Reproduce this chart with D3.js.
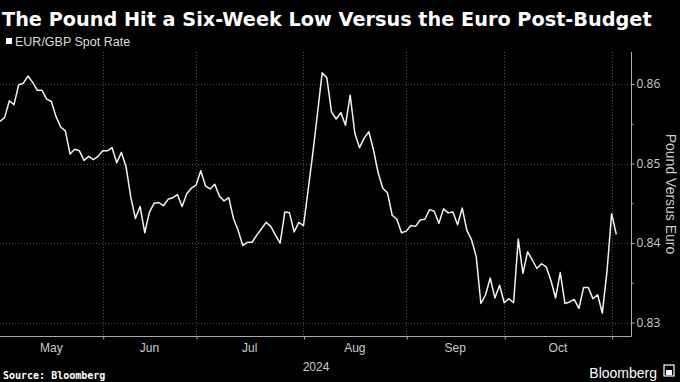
<!DOCTYPE html>
<html>
<head>
<meta charset="utf-8">
<script src="https://cdn.jsdelivr.net/npm/d3@7"></script>
<style>
  html, body { margin: 0; padding: 0; background: #000; }
  svg { display: block; }
</style>
</head>
<body>
<svg id="chart" width="680" height="382"></svg>
<script>
// ---- Data (EUR/GBP spot rate, trading-day index) ----
const seriesName = "EUR/GBP Spot Rate";
const rates = [
  0.8553, 0.8558, 0.8579, 0.8574, 0.8599, 0.8601, 0.8610, 0.8602, 0.8592, 0.8592,
  0.8581, 0.8578, 0.8559, 0.8546, 0.8541, 0.8512, 0.8518, 0.8516, 0.8504, 0.8509,
  0.8505, 0.8509, 0.8516, 0.8516, 0.8520, 0.8501, 0.8514, 0.8496, 0.8458, 0.8431,
  0.8446, 0.8413, 0.8439, 0.8450, 0.8451, 0.8447, 0.8455, 0.8457, 0.8461, 0.8446,
  0.8462, 0.8469, 0.8473, 0.8491, 0.8472, 0.8468, 0.8474, 0.8459, 0.8453, 0.8457,
  0.8431, 0.8416, 0.8397, 0.8401, 0.8401, 0.8410, 0.8418, 0.8426, 0.8421, 0.8410,
  0.8400, 0.8439, 0.8438, 0.8414, 0.8426, 0.8422, 0.8467, 0.8513, 0.8563, 0.8614,
  0.8608, 0.8565, 0.8556, 0.8564, 0.8548, 0.8586, 0.8538, 0.8520, 0.8532, 0.8540,
  0.8517, 0.8488, 0.8469, 0.8463, 0.8435, 0.8430, 0.8413, 0.8415, 0.8422, 0.8421,
  0.8429, 0.8430, 0.8442, 0.8440, 0.8425, 0.8443, 0.8438, 0.8439, 0.8423, 0.8444,
  0.8416, 0.8404, 0.8383, 0.8324, 0.8335, 0.8356, 0.8331, 0.8347, 0.8325, 0.8330,
  0.8325, 0.8405, 0.8362, 0.8389, 0.8379, 0.8368, 0.8374, 0.8370, 0.8353, 0.8331,
  0.8363, 0.8324, 0.8326, 0.8329, 0.8318, 0.8344, 0.8344, 0.8330, 0.8335, 0.8312,
  0.8364, 0.8437, 0.8411
];
// month boundaries (trading-day index of first trading day of the month)
const monthStarts = [22, 42, 65, 87, 108, 131];
const monthLabels = ["May", "Jun", "Jul", "Aug", "Sep", "Oct"];
const monthLabelStart = [0, 22, 42, 65, 87, 108];
const monthLabelEnd   = [22, 42, 65, 87, 108, 131];
const yearLabel = "2024";
const yTicks = [0.83, 0.84, 0.85, 0.86];
const yMinorTicks = [0.835, 0.845, 0.855];
const titleText = "The Pound Hit a Six-Week Low Versus the Euro Post-Budget";
const yAxisTitle = "Pound Versus Euro";
const sourceText = "Source: Bloomberg";

// ---- Layout ----
const svg = d3.select("#chart");
const plot = { left: 0, right: 631, top: 52, bottom: 336 };

const x = d3.scaleLinear().domain([0, rates.length - 1]).range([0, 616.3]);
const y = d3.scaleLinear().domain([0.83, 0.86]).range([322.6, 84]);

svg.append("rect").attr("width", 680).attr("height", 382).attr("fill", "#000");

// Title (font size fitted to the reference width)
const title = svg.append("text")
  .attr("x", 2).attr("y", 26)
  .attr("fill", "#fff")
  .attr("font-family", "'DejaVu Sans', sans-serif")
  .attr("font-weight", "bold")
  .attr("font-size", 21)
  .text(titleText);
{
  const len = title.node().getComputedTextLength();
  const fs = Math.min(23, 21 * 650 / len);
  title.attr("font-size", fs.toFixed(2));
}

// Legend
svg.append("rect").attr("x", 6).attr("y", 38).attr("width", 6).attr("height", 6).attr("fill", "#fff");
svg.append("text")
  .attr("x", 15).attr("y", 45.5)
  .attr("fill", "#ddd")
  .attr("font-family", "'Liberation Sans Narrow', 'Liberation Sans', sans-serif")
  .attr("font-size", 12.5)
  .text(seriesName);

// Gridlines
const grid = svg.append("g").attr("stroke", "#4a4a4a").attr("stroke-width", 1).attr("stroke-dasharray", "1,2");
grid.selectAll("line.h").data(yTicks).join("line")
  .attr("x1", plot.left).attr("x2", plot.right)
  .attr("y1", d => Math.round(y(d)) + 0.5).attr("y2", d => Math.round(y(d)) + 0.5);
grid.selectAll("line.v").data(monthStarts).join("line")
  .attr("x1", d => Math.round(x(d)) + 0.5).attr("x2", d => Math.round(x(d)) + 0.5)
  .attr("y1", plot.top).attr("y2", plot.bottom);

// Right y axis
const yAxis = d3.axisRight(y).tickValues(yTicks).tickSize(3).tickFormat(d3.format(".2f"));
const yg = svg.append("g").attr("transform", `translate(${plot.right + 0.5},0)`).call(yAxis);
yg.select(".domain").remove();
yg.selectAll(".tick line").attr("stroke", "#aaa");
yg.selectAll(".tick text").attr("fill", "#ccc").attr("x", 5)
  .attr("font-family", "'Open Sans', sans-serif").attr("font-size", 12);
const yMinor = d3.axisRight(y).tickValues(yMinorTicks).tickSize(2).tickFormat("");
const ym = svg.append("g").attr("transform", `translate(${plot.right + 0.5},0)`).call(yMinor);
ym.select(".domain").remove();
ym.selectAll(".tick line").attr("stroke", "#aaa");
svg.append("line").attr("x1", plot.right + 0.5).attr("x2", plot.right + 0.5)
  .attr("y1", plot.top).attr("y2", plot.bottom + 0.5).attr("stroke", "#aaa");

// Y axis title
svg.append("text")
  .attr("transform", `translate(666,194) rotate(90)`)
  .attr("text-anchor", "middle")
  .attr("fill", "#ccc")
  .attr("font-family", "'Liberation Sans', sans-serif")
  .attr("font-size", 14)
  .text(yAxisTitle);

// X axis
svg.append("line").attr("x1", plot.left).attr("x2", plot.right + 0.5)
  .attr("y1", plot.bottom + 0.5).attr("y2", plot.bottom + 0.5).attr("stroke", "#aaa");
const xAxis = d3.axisBottom(x).tickValues(monthStarts).tickSize(3).tickFormat("");
const xg = svg.append("g").attr("transform", `translate(0.5,${plot.bottom + 0.5})`).call(xAxis);
xg.select(".domain").remove();
xg.selectAll(".tick line").attr("stroke", "#aaa");
svg.selectAll("text.month").data(monthLabels).join("text")
  .attr("class", "month")
  .attr("x", (d, i) => (x(monthLabelStart[i]) + x(monthLabelEnd[i])) / 2)
  .attr("y", 352)
  .attr("text-anchor", "middle")
  .attr("fill", "#ccc")
  .attr("font-family", "'Liberation Sans Narrow', 'Liberation Sans', sans-serif")
  .attr("font-size", 12)
  .text(d => d);
svg.append("text")
  .attr("x", 316).attr("y", 371)
  .attr("text-anchor", "middle")
  .attr("fill", "#ccc")
  .attr("font-family", "'Liberation Sans Narrow', 'Liberation Sans', sans-serif")
  .attr("font-size", 12)
  .text(yearLabel);

// Line
const line = d3.line().x((d, i) => x(i)).y(d => y(d)).curve(d3.curveLinear);
svg.append("path").datum(rates)
  .attr("d", line)
  .attr("fill", "none")
  .attr("stroke", "#f2f2f2")
  .attr("stroke-width", 1.5)
  .attr("stroke-linejoin", "round");

// Footer
svg.append("text")
  .attr("x", 3).attr("y", 379)
  .attr("fill", "#fff")
  .attr("font-family", "'DejaVu Sans Mono', monospace")
  .attr("font-weight", "bold")
  .attr("font-size", 10)
  .text(sourceText);
svg.append("text")
  .attr("x", 657).attr("y", 378)
  .attr("text-anchor", "end")
  .attr("fill", "#fff")
  .attr("font-family", "'Liberation Sans', sans-serif")
  .attr("font-size", 14)
  .text("Bloomberg");
svg.append("rect").attr("x", 664).attr("y", 365).attr("width", 10).attr("height", 11)
  .attr("fill", "none").attr("stroke", "#fff").attr("stroke-width", 1.2);
svg.append("rect").attr("x", 666).attr("y", 370).attr("width", 6).attr("height", 5).attr("fill", "#fff");
</script>
</body>
</html>
